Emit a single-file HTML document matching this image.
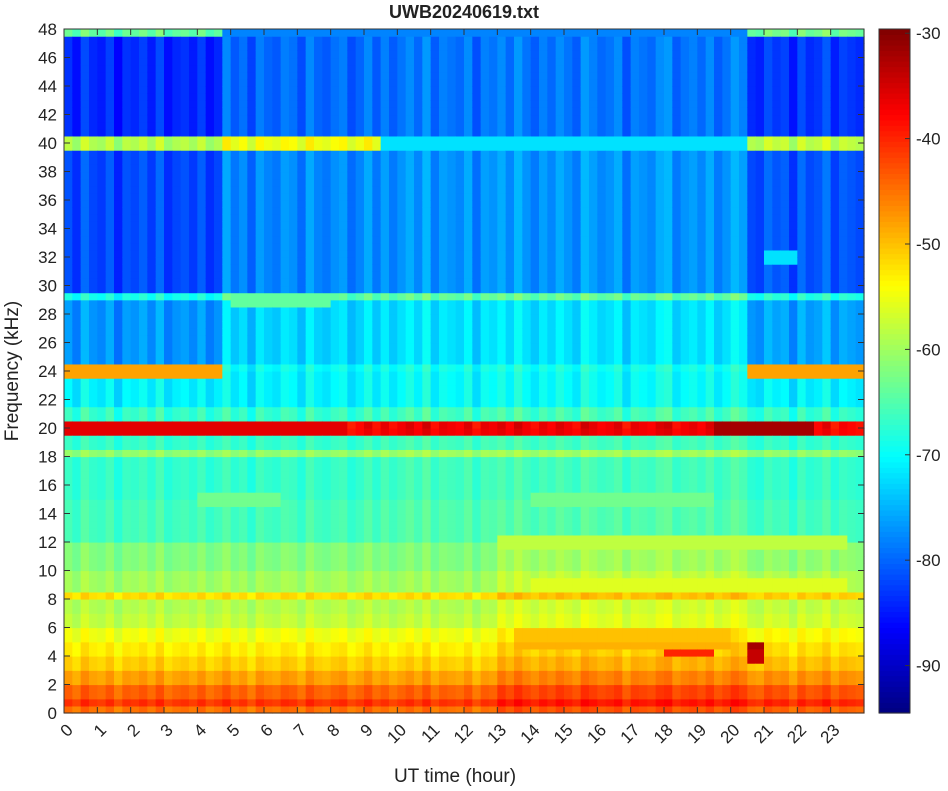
<!DOCTYPE html>
<html><head><meta charset="utf-8"><style>
body{margin:0;background:#fff;}
svg{font-family:"Liberation Sans",sans-serif;}
</style></head><body>
<svg id="chart" width="948" height="786" viewBox="0 0 948 786">
<text x="464" y="18" text-anchor="middle" font-weight="bold" font-size="18" fill="#222">UWB20240619.txt</text>
<g id="cells"></g>
<g id="axes"></g>
<g id="cbar"></g>
<text transform="translate(18,371) rotate(-90)" text-anchor="middle" font-size="19" fill="#222">Frequency (kHz)</text>
<text x="455" y="782" text-anchor="middle" font-size="19" fill="#222">UT time (hour)</text>
</svg>
<script>
// frequency bands (kHz) and baseline level (dB)
const bandLo = [0,0.5,1,2,3,4,5,6,7,8,8.5,10,12,15,18,18.5,19.5,20.5,21.5,24,24.5,29,29.5,39.5,40.5,47.5];
const bandHi = [0.5,1,2,3,4,5,6,7,8,8.5,10,12,15,18,18.5,19.5,20.5,21.5,24,24.5,29,29.5,39.5,40.5,47.5,48];
const bandDb = [-45,-41,-44,-48,-51,-53,-55,-58,-59,-52,-60,-62,-66,-67,-61,-67,-38,-67,-71,-72,-75,-67,-80,-57,-82,-62];
// time regions (hours) with offsets for low / mid / high frequency
const regStart = [0,4.7,9.5,13,20.5];
const regEnd = [4.7,9.5,13,20.5,24];
const regLow = [0,0,0,2,1];
const regMid = [0,0,1,1,0];
const regHigh = [-2,2,3,3,-1];
// narrow line features: freq, start hour, end hour, level
const lineFreq = [24,24,40,48,48,20,20,15,15,12,9,4.5,4.5,4,5,5.5,29,32];
const lineT0 = [0,20.5,9.5,9.5,4.7,19.5,0,4,14,13,14,18,20.5,20.5,13.5,13.5,5,21];
const lineT1 = [4.7,24,20.5,20.5,9.5,22.5,8.5,6.5,19.5,23.5,23.5,19.5,21,21,20,20,8,22];
const lineDb = [-48,-48,-72,-78,-78,-32,-36,-63,-63,-58,-56,-40,-32,-34,-49,-50,-64,-72];
// per-column streak jitter (dB), 96 quarter-hour columns
const jitter = [1,-2,3,0,-1,2,-3,1,0,2,-1,3,-2,0,1,-1,2,-2,0,3,-1,1,-3,2,0,-1,2,1,-2,3,0,-1,1,2,-2,0,3,-1,1,-2,0,2,-1,3,-2,1,0,-1,2,-3,1,0,2,-1,3,0,-2,1,-1,2,0,-2,3,1,-1,0,2,-3,1,0,-1,2,3,-2,0,1,-1,2,-2,0,3,1,-1,-2,2,0,1,-3,2,-1,0,3,-2,1,0,-1];
const cbTicks = [-30,-40,-50,-60,-70,-80,-90];

const NS='http://www.w3.org/2000/svg';
const X0=64,X1=864,Y0=29,Y1=713, vmin=-94.5, vmax=-29.6;
const xS=h=>X0+h*(X1-X0)/24;
const yS=f=>Y1-f*(Y1-Y0)/48;
function jet(v){let t=Math.max(0,Math.min(1,(v-vmin)/(vmax-vmin)));
 const c=x=>Math.round(255*Math.max(0,Math.min(1,1.5-Math.abs(x))));
 return `rgb(${c(4*t-3)},${c(4*t-2)},${c(4*t-1)})`;}
function mk(tag,attrs,parent){const e=document.createElementNS(NS,tag);for(const k in attrs)e.setAttribute(k,attrs[k]);parent.appendChild(e);return e;}
const cells=document.getElementById('cells');
const rowStep=0.5,colStep=0.25;
for(let ci=0;ci<96;ci++){
 const t=ci*colStep+colStep/2;
 let r=0;for(let k=0;k<regStart.length;k++)if(t>=regStart[k]&&t<regEnd[k])r=k;
 for(let ri=0;ri<96;ri++){
  const f=ri*rowStep+rowStep/2;
  let b=0;for(let k=0;k<bandLo.length;k++)if(f>=bandLo[k]&&f<bandHi[k])b=k;
  let v=bandDb[b]+(f<12?regLow[r]:(f<24?regMid[r]:regHigh[r]))+jitter[ci]*(f<20?0.5:0.8);
  for(let k=0;k<lineFreq.length;k++)if(Math.abs(f-lineFreq[k])<0.3&&t>=lineT0[k]&&t<lineT1[k])v=lineDb[k];
  const rc=mk('rect',{x:xS(ci*colStep),y:yS((ri+1)*rowStep),width:(X1-X0)/96+0.6,height:(Y1-Y0)/96+0.6,fill:jet(v)},cells);
  
  
 }
}
const ax=document.getElementById('axes');
mk('rect',{x:X0,y:Y0,width:X1-X0,height:Y1-Y0,fill:'none',stroke:'#333','stroke-width':1},ax);
for(let f=0;f<=48;f+=2){const y=yS(f);
 mk('line',{x1:X0,x2:X0+6,y1:y,y2:y,stroke:'#333'},ax);mk('line',{x1:X1,x2:X1-6,y1:y,y2:y,stroke:'#333'},ax);
 const tx=mk('text',{x:X0-7,y:y+6,'text-anchor':'end','font-size':17,fill:'#222'},ax);tx.textContent=f;
 
 }
for(let h=0;h<=23;h++){const x=xS(h);
 mk('line',{x1:x,x2:x,y1:Y1,y2:Y1-6,stroke:'#333'},ax);mk('line',{x1:x,x2:x,y1:Y0,y2:Y0+6,stroke:'#333'},ax);
 const tx=mk('text',{transform:`translate(${x+10},${Y1+18}) rotate(-45)`,'text-anchor':'end','font-size':17,fill:'#222'},ax);tx.textContent=h;
 
 }
const cb=document.getElementById('cbar');
const CX=879,CW=31,N=128;
for(let i=0;i<N;i++){const v=vmin+(vmax-vmin)*(i+0.5)/N;const y=Y1-(i+1)*(Y1-Y0)/N;
 mk('rect',{x:CX,y:y,width:CW,height:(Y1-Y0)/N+0.6,fill:jet(v)},cb);}
mk('rect',{x:CX,y:Y0,width:CW,height:Y1-Y0,fill:'none',stroke:'#333'},cb);
cbTicks.forEach(v=>{const y=Y1-(v-vmin)/(vmax-vmin)*(Y1-Y0);
 mk('line',{x1:CX+CW,x2:CX+CW-5,y1:y,y2:y,stroke:'#333'},cb);
 const tx=mk('text',{x:CX+CW+6,y:y+6,'font-size':17,fill:'#222'},cb);tx.textContent=v;
 
 });
</script>
</body></html>
